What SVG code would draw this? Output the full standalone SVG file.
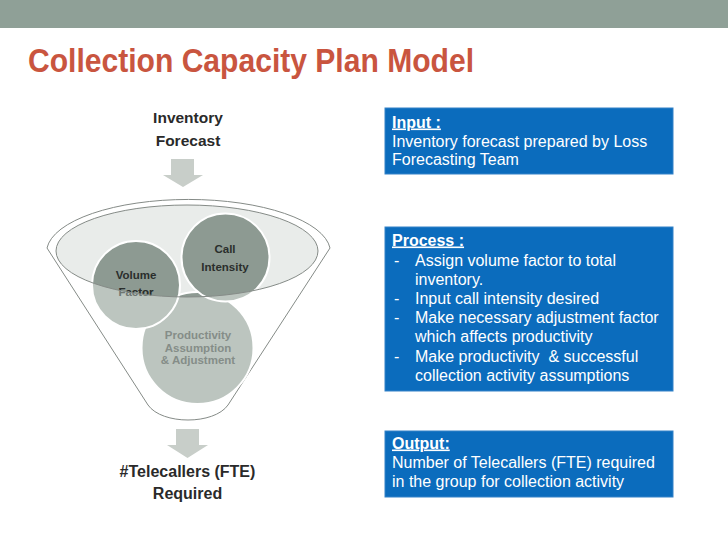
<svg xmlns="http://www.w3.org/2000/svg" width="728" height="546" viewBox="0 0 728 546">
<style>
.title{font-family:"Liberation Sans",Arial,sans-serif;font-weight:bold;font-size:33px;fill:#C9553F}
.lbl{font-family:"Liberation Sans",Arial,sans-serif;font-weight:bold;font-size:15.5px;fill:#2A2A2A;text-anchor:middle}
.cl{font-family:"Liberation Sans",Arial,sans-serif;font-weight:bold;font-size:11.5px;fill:#2A2E2C;text-anchor:middle}
.pl{font-family:"Liberation Sans",Arial,sans-serif;font-weight:bold;font-size:11.5px;fill:#858D88;text-anchor:middle}
.lite{fill:#BCC5BF}
.dark{fill:#8D9A92}
.ring{fill:none;stroke:#FFFFFF;stroke-width:2}
.box{fill:#0B6CBD;stroke:#3582C8;stroke-width:1}
.bt{font-family:"Liberation Sans",Arial,sans-serif;font-size:16px;fill:#FFFFFF;white-space:pre}
.bh{font-weight:bold;text-decoration:underline}
.arrow{fill:#C8CEC9}
.edge{fill:none;stroke:#858B87;stroke-width:1}
</style>
<defs>
<clipPath id="ell"><ellipse cx="187" cy="251" rx="131" ry="46"/></clipPath>
</defs>
<rect x="0" y="0" width="728" height="28" fill="#8FA097"/>
<text class="title" x="28" y="72" textLength="446" lengthAdjust="spacingAndGlyphs">Collection Capacity Plan Model</text>

<g id="funnel">
<path d="M47,248 A142,53 0 0 1 330,248 L228,405 C214,425 162,425 148,405 Z" fill="#FFFFFF" stroke="#858B87" stroke-width="1"/>
<ellipse cx="187" cy="251" rx="131" ry="46" fill="#E9ECEA"/>
</g>

<g id="productivity">
<circle class="lite" cx="197.5" cy="348" r="56"/>
<circle class="dark" cx="197.5" cy="348" r="56" clip-path="url(#ell)"/>
<circle class="ring" cx="197.5" cy="348" r="56"/>
<text class="pl" x="198" y="339">Productivity</text>
<text class="pl" x="198" y="351.5">Assumption</text>
<text class="pl" x="198" y="364">&amp; Adjustment</text>
</g>

<g id="volume">
<circle class="lite" cx="136" cy="285" r="44"/>
<circle class="dark" cx="136" cy="285" r="44" clip-path="url(#ell)"/>
<circle class="ring" cx="136" cy="285" r="44"/>
<text class="cl" x="136" y="279">Volume</text>
<text class="cl" x="136" y="296" style="fill:#6E7671">Factor</text>
<text class="cl" x="136" y="296" clip-path="url(#ell)">Factor</text>
</g>

<g id="call">
<circle class="lite" cx="225.5" cy="257.5" r="44"/>
<circle class="dark" cx="225.5" cy="257.5" r="44" clip-path="url(#ell)"/>
<circle class="ring" cx="225.5" cy="257.5" r="44"/>
<text class="cl" x="225" y="252.5">Call</text>
<text class="cl" x="225" y="270.5">Intensity</text>
</g>

<g id="funnel-rim">
<ellipse class="edge" cx="187" cy="251" rx="131" ry="46"/>
</g>

<g id="inventory">
<text class="lbl" x="188" y="123">Inventory</text>
<text class="lbl" x="188" y="146">Forecast</text>
</g>

<g id="telecallers">
<text class="lbl" x="187.5" y="477" style="font-size:16px">#Telecallers (FTE)</text>
<text class="lbl" x="187.5" y="499" style="font-size:16px">Required</text>
</g>

<g id="connectors">
<polygon class="arrow" points="171,159 194,159 194,175 203,175 183,187 163,175 171,175"/>
<polygon class="arrow" points="176,429 199,429 199,445 208,445 187.5,458 167,445 176,445"/>
</g>

<g id="input">
<rect class="box" x="385" y="108" width="288" height="66"/>
<text class="bt bh" x="392" y="127.5">Input :</text>
<text class="bt" x="392" y="146.5">Inventory forecast prepared by Loss</text>
<text class="bt" x="392" y="165">Forecasting Team</text>
</g>

<g id="process">
<rect class="box" x="385" y="227" width="288" height="164"/>
<text class="bt bh" x="392" y="245.5">Process :</text>
<text class="bt" x="394" y="265.5">-</text>
<text class="bt" x="415" y="265.5">Assign volume factor to total</text>
<text class="bt" x="415" y="284.5">inventory.</text>
<text class="bt" x="394" y="303.5">-</text>
<text class="bt" x="415" y="303.5">Input call intensity desired</text>
<text class="bt" x="394" y="322.5">-</text>
<text class="bt" x="415" y="322.5">Make necessary adjustment factor</text>
<text class="bt" x="415" y="342">which affects productivity</text>
<text class="bt" x="394" y="362">-</text>
<text class="bt" x="415" y="362">Make productivity  &amp; successful</text>
<text class="bt" x="415" y="381">collection activity assumptions</text>
</g>

<g id="output">
<rect class="box" x="385" y="431" width="288" height="66"/>
<text class="bt bh" x="392" y="448.5">Output:</text>
<text class="bt" x="392" y="467.5">Number of Telecallers (FTE) required</text>
<text class="bt" x="392" y="486.5">in the group for collection activity</text>
</g>
</svg>
